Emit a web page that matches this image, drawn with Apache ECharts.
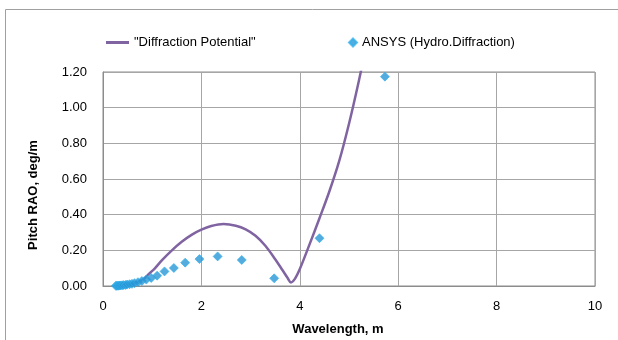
<!DOCTYPE html>
<html>
<head>
<meta charset="utf-8">
<script src="https://cdn.jsdelivr.net/npm/echarts@6/dist/echarts.min.js"></script>
<style>
html,body{margin:0;padding:0;background:#fff;}
#c{width:618px;height:340px;}
</style>
</head>
<body>
<div id="c"></div>
<script>
// Data
var lineName = '"Diffraction Potential"';
var scatterName = 'ANSYS (Hydro.Diffraction)';
var lineX = [0.25, 0.35, 0.45, 0.55, 0.65, 0.75, 0.85, 0.95, 1.05, 1.2, 1.4, 1.6, 1.8, 2.0, 2.2, 2.45, 2.7, 2.9, 3.1, 3.3, 3.5, 3.65, 3.75, 3.82, 3.9, 4.0, 4.2, 4.4, 4.6, 4.8, 5.0, 5.2, 5.4];
var lineY = [0.002, 0.004, 0.008, 0.012, 0.018, 0.027, 0.045, 0.072, 0.098, 0.145, 0.20, 0.248, 0.287, 0.316, 0.336, 0.347, 0.338, 0.318, 0.282, 0.226, 0.150, 0.088, 0.046, 0.020, 0.040, 0.095, 0.235, 0.380, 0.530, 0.700, 0.910, 1.15, 1.41];
var ansysX = [0.26, 0.28, 0.30, 0.32, 0.34, 0.36, 0.39, 0.42, 0.46, 0.49, 0.54, 0.59, 0.64, 0.71, 0.79, 0.88, 0.98, 1.10, 1.25, 1.44, 1.67, 1.96, 2.33, 2.82, 3.48, 4.40, 5.73];
var ansysY = [0.001, 0.001, 0.002, 0.002, 0.003, 0.003, 0.004, 0.005, 0.006, 0.008, 0.010, 0.012, 0.016, 0.021, 0.028, 0.036, 0.045, 0.058, 0.082, 0.101, 0.131, 0.151, 0.166, 0.146, 0.043, 0.268, 1.174];
var xTicks = {min: 0, max: 10, interval: 2};
var yTicks = {min: 0, max: 1.2, interval: 0.2};
var xTitle = 'Wavelength, m';
var yTitle = 'Pitch RAO, deg/m';

var lineData = lineX.map(function (x, i) { return [x, lineY[i]]; });
var ansysData = ansysX.map(function (x, i) { return [x, ansysY[i]]; });

var font = 'Liberation Sans, Arial, sans-serif';
var chart = echarts.init(document.getElementById('c'), null, {renderer: 'canvas'});
chart.setOption({
  animation: false,
  backgroundColor: '#ffffff',
  textStyle: {fontFamily: font},
  grid: {left: 103, right: 23, top: 72, bottom: 54, show: true, borderColor: '#8c8c8c', borderWidth: 1, backgroundColor: 'transparent'},
  legend: [
    {data: [{name: lineName, icon: 'rect'}], left: 106, top: 36, padding: 0, itemWidth: 23, itemHeight: 3,
     textStyle: {fontSize: 13, color: '#000', fontFamily: font}},
    {data: [{name: scatterName, icon: 'diamond'}], left: 348, top: 36, padding: 0, itemWidth: 8, itemHeight: 8,
     textStyle: {fontSize: 13, color: '#000', fontFamily: font}}
  ],
  xAxis: {
    type: 'value', min: xTicks.min, max: xTicks.max, interval: xTicks.interval,
    axisLine: {show: true, lineStyle: {color: '#8c8c8c'}},
    axisTick: {show: false},
    axisLabel: {fontSize: 13, color: '#000', margin: 14, fontFamily: font},
    splitLine: {show: true, lineStyle: {color: '#a6a6a6', width: 1}}
  },
  yAxis: {
    type: 'value', min: yTicks.min, max: yTicks.max, interval: yTicks.interval,
    axisLine: {show: true, lineStyle: {color: '#8c8c8c'}},
    axisTick: {show: false},
    axisLabel: {fontSize: 13, color: '#000', margin: 16, fontFamily: font,
      formatter: function (v) { return v.toFixed(2); }},
    splitLine: {show: true, lineStyle: {color: '#a6a6a6', width: 1}}
  },
  graphic: [
    {type: 'rect', silent: true, z: -10, shape: {x: 5.5, y: 9.5, width: 700, height: 400},
     style: {fill: 'none', stroke: '#a0a0a0', lineWidth: 1}},
    {type: 'text', x: 33, y: 195, rotation: Math.PI / 2, z: 10,
     style: {text: yTitle, fontSize: 13, fontWeight: 'bold', fill: '#000', fontFamily: font, align: 'center', verticalAlign: 'middle'}},
    {type: 'text', x: 338, y: 329, z: 10,
     style: {text: xTitle, fontSize: 13, fontWeight: 'bold', fill: '#000', fontFamily: font, align: 'center', verticalAlign: 'middle'}}
  ],
  series: [
    {name: lineName, type: 'line', data: lineData, showSymbol: false, symbol: 'none', smooth: 0.35,
     clip: true, itemStyle: {color: '#8064a2'}, lineStyle: {color: '#8064a2', width: 2.5}, z: 3},
    {name: scatterName, type: 'scatter', data: ansysData, symbol: 'diamond', symbolSize: 9,
     itemStyle: {color: '#2896d6', borderColor: '#33b2ec', borderWidth: 0.8}, z: 4}
  ]
});
</script>
</body>
</html>
